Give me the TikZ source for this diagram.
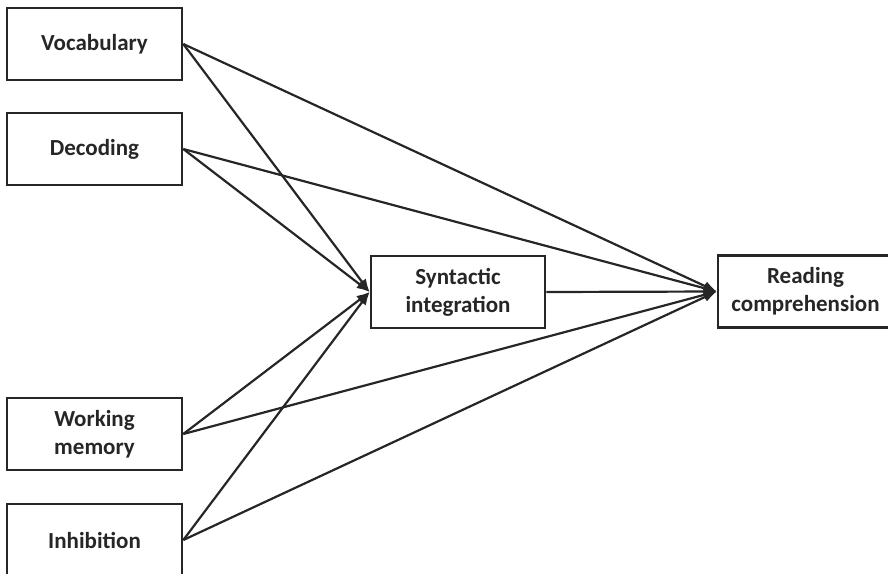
\documentclass[tikz,border=0pt]{standalone}
\usepackage{fontspec}
\setmainfont{Carlito}
\usetikzlibrary{arrows.meta}

\begin{document}
\begin{tikzpicture} [
                x=1pt, y=-1pt,
                factor/.style = {draw=black!85, line width=2.6pt, minimum width=175pt, minimum height=72pt, inner sep=0pt, align=center, text=black!85, font=\fontsize{23}{28}\selectfont\bfseries},
                path edge/.style = {draw=black!85, line width=2.2pt, -{Latex[length=13pt,width=10pt]}}
            ]
        \useasboundingbox (0,0) rectangle (888,573);
        % First we draw the predictors
            \foreach \pos/\name/\txt in {
                {(94.5,44)/voc/Vocabulary},
                {(94.5,149)/dec/Decoding},
                {(94.5,434)/wm/Working\\memory},
            {(94.5,540)/inh/Inhibition}}
            \node[factor] (\name) at \pos {\txt};
        % mediator and outcome
            \node[factor, minimum width=174pt] (syn) at (458,292) {Syntactic\\integration};
            \node[factor] (rc) at (805.5,291.5) {Reading\\comprehension};
        % Connect predictors with mediator and outcome
            \foreach \source in {voc, dec, wm, inh} {
                \path[path edge] (\source.east) -- (syn.west);
                \path[path edge] (\source.east) -- (rc.west);
            }
            \path[path edge] (syn.east) -- (rc.west);
        \end{tikzpicture}
\end{document}
